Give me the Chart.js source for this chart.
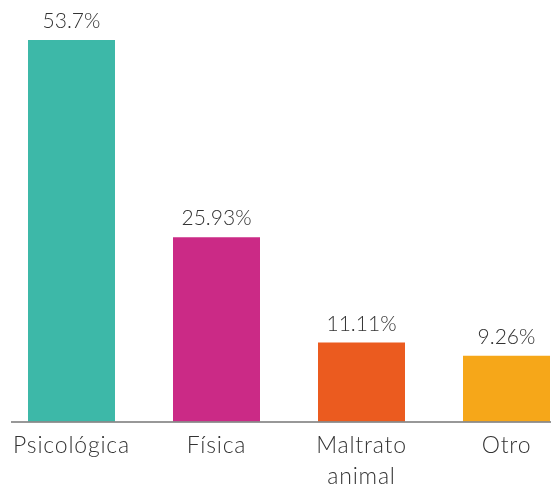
<!DOCTYPE html>
<html>
<head>
<meta charset="utf-8">
<script src="https://cdn.jsdelivr.net/npm/chart.js@4"></script>
<style>
  html, body { margin: 0; padding: 0; background: #fff; overflow: hidden; }
  #wrap { position: absolute; left: -1px; top: 0; width: 580px; height: 486px; }
</style>
</head>
<body>
<div id="wrap"><canvas id="myChart"></canvas></div>
<script>
const categories = [["Psicológica"], ["Física"], ["Maltrato", "animal"], ["Otro"]];
const percentages = [53.7, 25.93, 11.11, 9.26];
const barColors = ["#3db8a8", "#cb2a86", "#eb5b1f", "#f6a719"];

const FONT = "Lato, 'Open Sans', sans-serif";

// wider tracking for the category labels
const tracking = {
  id: "tracking",
  beforeDraw(chart) {
    chart.ctx.letterSpacing = "0.8px";
  },
};

// value labels above each bar
const valueLabels = {
  id: "valueLabels",
  afterDatasetsDraw(chart) {
    const ctx = chart.ctx;
    const meta = chart.getDatasetMeta(0);
    ctx.save();
    ctx.letterSpacing = "0px";
    ctx.font = "300 21px " + FONT;
    ctx.fillStyle = "#333";
    ctx.textAlign = "center";
    ctx.textBaseline = "alphabetic";
    meta.data.forEach((bar, i) => {
      ctx.fillText(percentages[i] + "%", bar.x, bar.y - 12);
    });
    ctx.restore();
  },
};

// baseline under the bars, starting a little in from the left edge
const baseLine = {
  id: "baseLine",
  afterDatasetsDraw(chart) {
    const ctx = chart.ctx;
    const y = chart.scales.y.getPixelForValue(0) + 0.5;
    ctx.save();
    ctx.strokeStyle = "#333";
    ctx.lineWidth = 1.2;
    ctx.beginPath();
    ctx.moveTo(12, y);
    ctx.lineTo(chart.chartArea.right, y);
    ctx.stroke();
    ctx.restore();
  },
};

const ctx = document.getElementById("myChart").getContext("2d");

new Chart(ctx, {
  type: "bar",
  data: {
    labels: categories,
    datasets: [
      {
        data: percentages,
        backgroundColor: barColors,
        barPercentage: 0.6,
        categoryPercentage: 1,
      },
    ],
  },
  options: {
    responsive: true,
    maintainAspectRatio: false,
    animation: false,
    layout: { padding: { top: 40, left: 0, right: 0, bottom: 0 } },
    scales: {
      x: {
        grid: { display: false },
        border: { display: false },
        ticks: {
          color: "#333",
          padding: 1,
          maxRotation: 0,
          autoSkip: false,
          font: { family: FONT, size: 23, weight: 300, lineHeight: 1.35 },
        },
        afterFit(scale) {
          scale.height = 64.5;
        },
      },
      y: {
        display: false,
        min: 0,
        max: 53.7,
      },
    },
    plugins: {
      legend: { display: false },
      tooltip: { enabled: false },
    },
  },
  plugins: [tracking, valueLabels, baseLine],
});
</script>
</body>
</html>
